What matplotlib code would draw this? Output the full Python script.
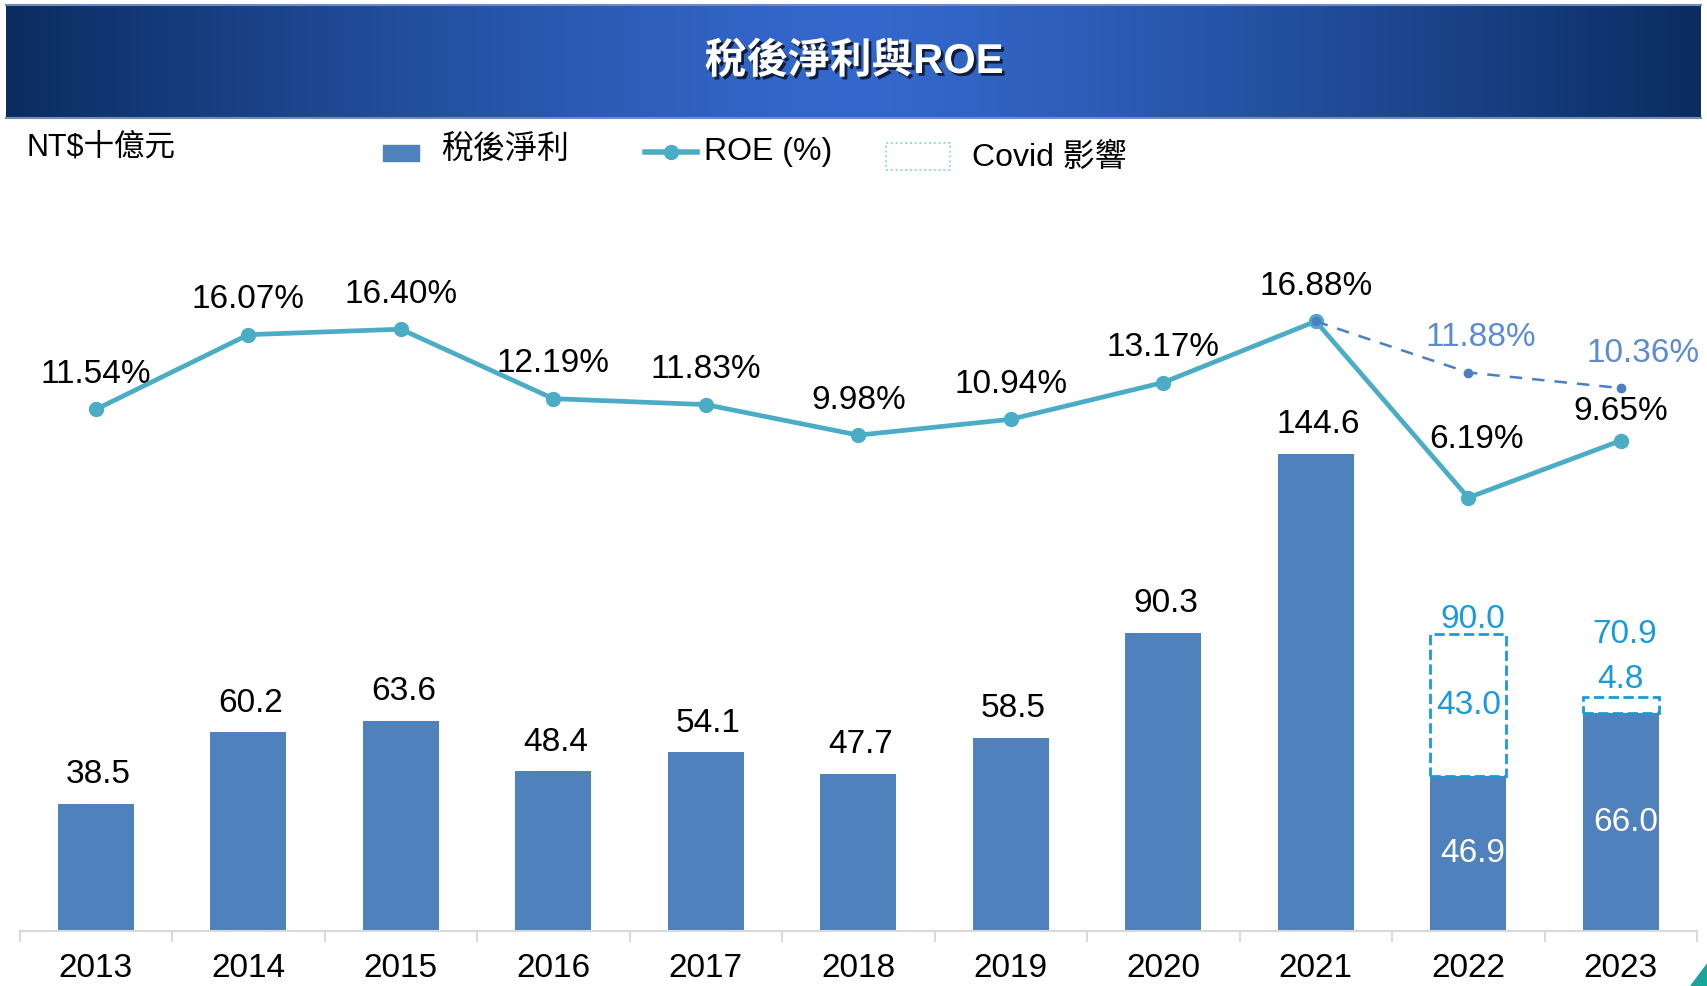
import numpy as np
import matplotlib.pyplot as plt
import matplotlib.patheffects as pe
from matplotlib.patches import Rectangle, Polygon
from matplotlib.lines import Line2D
from matplotlib.colors import to_rgb

plt.rcParams['font.family'] = ['Liberation Sans', 'Noto Sans CJK TC', 'DejaVu Sans']

# data
years = ['2013', '2014', '2015', '2016', '2017', '2018', '2019', '2020', '2021', '2022', '2023']
profit = [38.5, 60.2, 63.6, 48.4, 54.1, 47.7, 58.5, 90.3, 144.6, 46.9, 66.0]
roe = [11.54, 16.07, 16.40, 12.19, 11.83, 9.98, 10.94, 13.17, 16.88, 6.19, 9.65]

# covid part (dashed boxes)
covid_years = ['2022', '2023']
covid_impact = [43.0, 4.8]
covid_total = [90.0, 70.9]

# ROE without covid (dashed line)
roe_adj_years = ['2021', '2022', '2023']
roe_adj = [16.88, 11.88, 10.36]

# colours
c_bar = '#4F81BD'
c_roe = '#4BACC6'
c_covid = '#1A9AD6'
c_adj = '#4A7EC5'

fs = 24  # value labels

W, H = 1708, 986

def fx(px):
    return px / W

def fy(py):
    return 1 - py / H

fig = plt.figure(figsize=(W / 100, H / 100), dpi=100)

# title band with gradient
ax_band = fig.add_axes([fx(6), fy(118), fx(1695), (118 - 5) / H])
t = np.abs(np.linspace(-1, 1, 600)) ** 1.3
c_mid = np.array(to_rgb('#3468CC'))
c_edge = np.array(to_rgb('#0B2C60'))
grad = c_mid[None, :] * (1 - t[:, None]) + c_edge[None, :] * t[:, None]
ax_band.imshow(grad[None, :, :], aspect='auto', extent=[0, 1, 0, 1])
ax_band.axis('off')
for yy in (5, 118):
    fig.add_artist(Line2D([fx(6), fx(1701)], [fy(yy), fy(yy)], transform=fig.transFigure,
                          color='#6F8DB8', lw=1.5))
fig.text(fx(854), fy(62), '稅後淨利與ROE', color='white', fontsize=30, fontweight='bold',
         ha='center', va='center',
         path_effects=[pe.withSimplePatchShadow(offset=(2, -2), shadow_rgbFace='black', alpha=0.7)])

# main axes
ax = fig.add_axes([fx(19.6), fy(931), fx(1677.4), (931 - 200) / H])
x = np.arange(len(years))
ax.bar(x, profit, width=0.5, color=c_bar, zorder=2)

idx = [years.index(y) for y in covid_years]
ax.bar(idx, covid_impact, bottom=[profit[i] for i in idx], width=0.5, fill=False,
       edgecolor=c_covid, linestyle='--', linewidth=2, zorder=2)

ax.set_xlim(-0.5, len(years) - 0.5)
ax.set_ylim(0, 221.5)
for s in ['top', 'left', 'right']:
    ax.spines[s].set_visible(False)
ax.spines['bottom'].set_color('#D9D9D9')
ax.spines['bottom'].set_linewidth(1.5)
ax.set_yticks([])
ax.set_xticks(x)
ax.set_xticklabels(years, fontsize=24)
ax.tick_params(axis='x', which='major', length=0, pad=16)
ax.set_xticks(np.arange(-0.5, len(years)), minor=True)
ax.tick_params(axis='x', which='minor', length=8, width=1.5, color='#D9D9D9')

# bar labels
for i, v in enumerate(profit):
    if i in idx:
        ax.text(i + 0.03, v / 2, f'{v:.1f}', color='white', fontsize=fs, ha='center', va='center', zorder=3)
    else:
        ax.annotate(f'{v:.1f}', (i, v), xytext=(2, 21), textcoords='offset points',
                    ha='center', va='center', fontsize=fs)

for k, i in enumerate(idx):
    top = profit[i] + covid_impact[k]
    if covid_impact[k] > 15:
        ax.text(i, profit[i] + covid_impact[k] / 2, f'{covid_impact[k]:.1f}', color=c_covid,
                fontsize=fs, ha='center', va='center')
        ax.annotate(f'{covid_total[k]:.1f}', (i, top), xytext=(3, 11), textcoords='offset points',
                    ha='center', va='center', fontsize=fs, color=c_covid)
    else:
        ax.annotate(f'{covid_impact[k]:.1f}', (i, top), xytext=(0, 13), textcoords='offset points',
                    ha='center', va='center', fontsize=fs, color=c_covid)
        ax.annotate(f'{covid_total[k]:.1f}', (i, top), xytext=(3, 45), textcoords='offset points',
                    ha='center', va='center', fontsize=fs, color=c_covid)

# ROE line
ax2 = ax.twinx()
ax2.set_ylim(-20.07, 24.23)
ax2.plot(x, roe, color=c_roe, lw=3.4, marker='o', ms=10, zorder=4)
for i, v in enumerate(roe):
    dx, dy = 0, 25
    if years[i] == '2022':
        dx, dy = 6, 42
    elif years[i] == '2023':
        dy = 21
    ax2.annotate(f'{v:.2f}%', (i, v), xytext=(dx, dy), textcoords='offset points',
                 ha='center', va='center', fontsize=fs)

# ROE without covid (dashed)
ax3 = ax.twinx()
ax3.set_ylim(-42.66, 28.73)
xa = [years.index(y) for y in roe_adj_years]
ax3.plot(xa, roe_adj, color=c_adj, lw=1.8, dashes=(5, 4), marker='o', ms=6, zorder=5)
for k in range(1, len(xa)):
    dx = 9 if k == 1 else 16
    ax3.annotate(f'{roe_adj[k]:.2f}%', (xa[k], roe_adj[k]), xytext=(dx, 25), textcoords='offset points',
                 ha='center', va='center', fontsize=fs, color='#5B8BD0')

for a in (ax2, ax3):
    for s in a.spines.values():
        s.set_visible(False)
    a.set_yticks([])

# legend / unit
fig.text(fx(27), fy(147), 'NT$十億元', fontsize=22, va='center')
fig.add_artist(Rectangle((fx(383), fy(161)), fx(36), (161 - 145) / H, transform=fig.transFigure,
                         color=c_bar))
fig.text(fx(441), fy(150), '稅後淨利', fontsize=23, va='center')
fig.add_artist(Line2D([fx(645), fx(697)], [fy(152), fy(152)], transform=fig.transFigure,
                      color=c_roe, lw=4))
fig.add_artist(Line2D([fx(671)], [fy(152)], transform=fig.transFigure, color=c_roe,
                      marker='o', ms=10))
fig.text(fx(704), fy(152), 'ROE (%)', fontsize=23, va='center')
fig.add_artist(Rectangle((fx(886), fy(170)), fx(64), (170 - 143) / H, transform=fig.transFigure,
                         fill=False, edgecolor='#7FD3F0', linestyle=':', lw=1.3))
fig.text(fx(972), fy(158), 'Covid 影響', fontsize=23, va='center')

# corner decoration
fig.add_artist(Polygon([[fx(1708), fy(962)], [fx(1708), fy(986)], [fx(1690), fy(986)]],
                       closed=True, transform=fig.transFigure, color='#1AA39A'))

fig.savefig('out.png', dpi=100)
